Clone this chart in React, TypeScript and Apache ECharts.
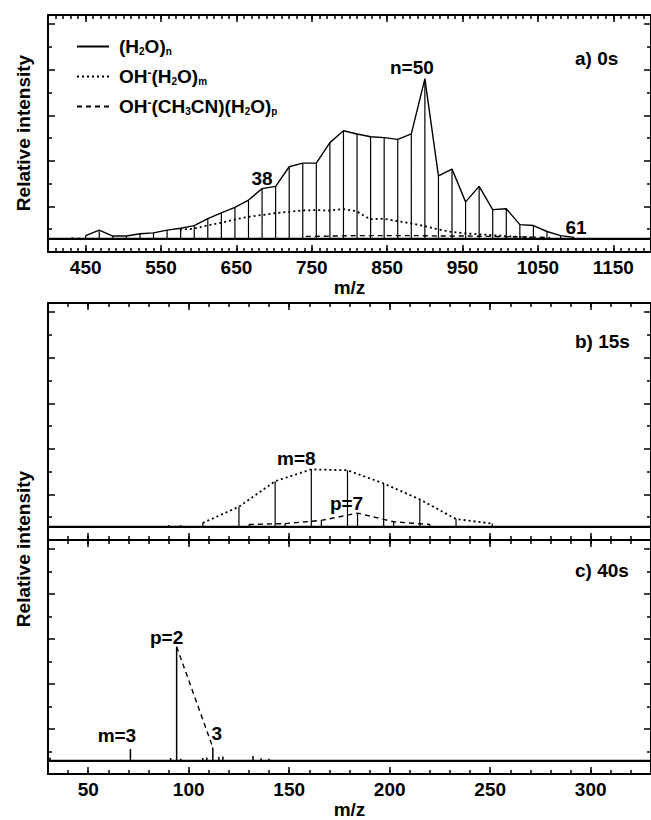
import React, { useEffect, useRef } from "react";
import * as echarts from "echarts";

const FONT = '"Liberation Sans", Arial, Helvetica, sans-serif';

// ---------- Panel a) 0 s ----------
const waterMzA = [450, 468, 486, 504, 522, 540, 558, 576, 594, 612, 630, 648, 666, 684, 702, 720, 738, 756, 774, 792, 810, 828, 846, 864, 882, 900, 918, 936, 954, 972, 990, 1008, 1026, 1044, 1062, 1080, 1098];
const waterIntA = [0.6, 1.8, 0.5, 0.5, 1.0, 1.2, 1.8, 2.2, 2.8, 4.3, 5.6, 6.8, 8.4, 10.9, 11.4, 15.7, 16.5, 16.5, 21.0, 23.6, 22.9, 22.3, 22.1, 21.7, 22.9, 35.0, 13.7, 15.2, 8.0, 11.4, 6.3, 6.5, 3.0, 2.8, 1.5, 0.6, 0.2];
const ohMzA = [575, 593, 611, 629, 647, 665, 683, 701, 719, 737, 755, 773, 791, 809, 827, 845, 863, 881, 899, 917, 935, 953, 971, 989, 1007, 1025, 1043];
const ohIntA = [1.9, 2.1, 2.8, 3.4, 4.1, 4.7, 5.1, 5.5, 5.8, 6.1, 6.2, 6.1, 6.4, 6.0, 4.2, 4.3, 3.8, 3.3, 2.7, 2.0, 1.4, 1.1, 0.9, 0.7, 0.5, 0.3, 0.2];
const acnMzA = [742, 778, 814, 850, 886, 922, 958, 994, 1030, 1066];
const acnIntA = [0.4, 0.5, 0.6, 0.6, 0.6, 0.5, 0.5, 0.4, 0.3, 0.2];
const noiseMzA = [432, 441, 1116, 1134];
const noiseIntA = [0.3, 0.2, 0.1, 0.1];

// ---------- Panel b) 15 s ----------
const ohMzB = [107, 125, 143, 161, 179, 197, 215, 233, 251];
const ohIntB = [0.75, 4.3, 9.9, 12.5, 12.3, 9.4, 5.9, 1.6, 0.6];
const acnMzB = [130, 148, 166, 184, 202, 220];
const acnIntB = [0.4, 0.6, 1.3, 2.9, 1.0, 0.4];
const noiseMzB = [90, 96];
const noiseIntB = [0.3, 0.3];

// ---------- Panel c) 40 s ----------
const peakMzC = [31, 71, 91, 94, 96, 107, 109, 112, 115, 117, 132, 136, 140];
const peakIntC = [0.7, 2.55, 0.6, 25.3, 0.4, 0.6, 0.7, 2.9, 0.8, 0.9, 1.0, 0.5, 0.4];
const acnMzC = [94, 112];
const acnIntC = [25.3, 2.9];

// ---------- ticks ----------
const xTicksA = [450, 550, 650, 750, 850, 950, 1050, 1150];
const xTicksBC = [50, 100, 150, 200, 250, 300];
const yMajorTicks = [-3, 7, 17, 27, 37, 47];
const yMinorTicks = [2, 12, 22, 32, 42];

// ---------- annotations ----------
const annotTextA = ["38", "n=50", "61"];
const annotMzA = [684, 900, 1098];
const annotTextB = ["m=8", "p=7"];
const annotMzB = [161, 184];
const annotTextC = ["m=3", "p=2", "3"];
const annotMzC = [71, 94, 112];

const panelTitles = ["a) 0s", "b) 15s", "c) 40s"];
const legendNames = ["(H2O)n", "OH-(H2O)m", "OH-(CH3CN)(H2O)p"];

function pairs(xs: number[], ys: number[]) {
  return xs.map((x, i) => [x, ys[i]]);
}

function sticks(xs: number[], ys: number[], lo: number, hi: number) {
  const idx = xs.map((_, i) => i).sort((a, b) => xs[a] - xs[b]);
  const pts: number[][] = [[lo, 0]];
  idx.forEach((i) => {
    pts.push([xs[i], 0], [xs[i], ys[i]], [xs[i], 0]);
  });
  pts.push([hi, 0]);
  return pts;
}

function lookup(xs: number[], ys: number[], x: number) {
  return ys[xs.indexOf(x)];
}

export default function App() {
  const ref = useRef<HTMLDivElement>(null);

  useEffect(() => {
    if (!ref.current) return;
    const chart = echarts.init(ref.current, null, { renderer: "svg" });

    const black = "#000";
    const boldText = { color: black, fontSize: 19, fontWeight: "bold" as const, fontFamily: FONT };

    const panels = [
      { min: 400, max: 1200, ticks: xTicksA, top: 15, labels: true },
      { min: 30, max: 330, ticks: xTicksBC, top: 303, labels: false },
      { min: 30, max: 330, ticks: xTicksBC, top: 540, labels: true },
    ];

    const grids = panels.map((p) => ({ left: 48, width: 604, top: p.top, height: 237 }));

    const xAxes: any[] = [];
    const yAxes: any[] = [];
    panels.forEach((p, g) => {
      const base = {
        type: "value",
        gridIndex: g,
        min: p.min,
        max: p.max,
        splitLine: { show: false },
        axisLine: { show: true, onZero: false, lineStyle: { color: black, width: 2 } },
      };
      const minorTick = { show: true, inside: true, length: 4, lineStyle: { color: black, width: 1.5 } };
      const majorTick = { show: true, inside: true, length: 7, customValues: p.ticks, lineStyle: { color: black, width: 1.5 } };
      xAxes.push(
        { ...base, position: "bottom", interval: 10, axisTick: minorTick, axisLabel: { show: false } },
        {
          ...base,
          position: "bottom",
          axisTick: majorTick,
          axisLabel: { show: p.labels, customValues: p.ticks, margin: 6, formatter: (v: number) => String(v), ...boldText },
          name: p.labels ? "m/z" : "",
          nameLocation: "middle",
          nameGap: 20,
          nameTextStyle: boldText,
        },
        { ...base, position: "top", interval: 10, axisTick: minorTick, axisLabel: { show: false } },
        { ...base, position: "top", axisTick: majorTick, axisLabel: { show: false } }
      );
      const yBase = {
        type: "value",
        gridIndex: g,
        min: -3,
        max: 49,
        splitLine: { show: false },
        axisLabel: { show: false },
        axisLine: { show: true, onZero: false, lineStyle: { color: black, width: 2 } },
      };
      const yMaj = { show: true, inside: true, length: 7, customValues: yMajorTicks, lineStyle: { color: black, width: 1.5 } };
      const yMin = { show: true, inside: true, length: 4, customValues: yMinorTicks, lineStyle: { color: black, width: 1.5 } };
      yAxes.push(
        { ...yBase, position: "left", axisTick: yMaj },
        { ...yBase, position: "left", axisTick: yMin },
        { ...yBase, position: "right", axisTick: yMaj },
        { ...yBase, position: "right", axisTick: yMin }
      );
    });

    const solidStyle = { color: black, width: 1.4, type: "solid" as const };
    const dottedStyle = { color: black, width: 1.8, type: [2, 3] };
    const dashedStyle = { color: black, width: 1.4, type: [5, 4] };

    const baseLine = {
      symbol: ["none", "none"],
      silent: true,
      label: { show: false },
      lineStyle: { color: black, width: 1.8, type: "solid" },
      data: [{ yAxis: 0 }],
    };

    const lineSeries = (name: string, g: number, data: number[][], lineStyle: any, z = 3) => ({
      type: "line",
      name,
      xAxisIndex: g * 4,
      yAxisIndex: g * 4,
      data,
      symbol: "none",
      color: black,
      lineStyle,
      z,
    });

    const labelSeries = (g: number, texts: string[], mzs: number[], hs: number[], offsets: number[][]) => ({
      type: "scatter",
      xAxisIndex: g * 4,
      yAxisIndex: g * 4,
      symbolSize: 1,
      silent: true,
      itemStyle: { color: "rgba(0,0,0,0)", opacity: 1 },
      z: 5,
      data: texts.map((t, i) => ({
        value: [mzs[i], hs[i]],
        label: {
          show: true,
          formatter: t,
          position: "inside",
          offset: offsets[i],
          opacity: 1,
          textBorderWidth: 0,
          textBorderColor: "transparent",
          ...boldText,
        },
      })),
    });

    const stickA = sticks([...waterMzA, ...noiseMzA], [...waterIntA, ...noiseIntA], 400, 1200);
    const stickB = sticks([...ohMzB, ...acnMzB, ...noiseMzB], [...ohIntB, ...acnIntB, ...noiseIntB], 30, 330);
    const stickC = sticks(peakMzC, peakIntC, 30, 330);

    const series: any[] = [
      lineSeries(legendNames[0], 0, pairs(waterMzA, waterIntA), solidStyle),
      lineSeries(legendNames[1], 0, pairs(ohMzA, ohIntA), dottedStyle),
      lineSeries(legendNames[2], 0, pairs(acnMzA, acnIntA), dashedStyle),
      { ...lineSeries("spectrum a", 0, stickA, { color: black, width: 1.2 }, 2), markLine: baseLine },
      labelSeries(0, annotTextA, annotMzA, annotMzA.map((m) => lookup(waterMzA, waterIntA, m)), [[0, -10.5], [-13, -11.5], [2, -9.5]]),

      lineSeries(legendNames[1], 1, pairs(ohMzB, ohIntB), dottedStyle),
      lineSeries(legendNames[2], 1, pairs(acnMzB, acnIntB), dashedStyle),
      { ...lineSeries("spectrum b", 1, stickB, { color: black, width: 1.2 }, 2), markLine: baseLine },
      labelSeries(1, annotTextB, annotMzB, [lookup(ohMzB, ohIntB, 161), lookup(acnMzB, acnIntB, 184)], [[-15, -10.5], [-11, -10]]),

      lineSeries(legendNames[2], 2, pairs(acnMzC, acnIntC), dashedStyle),
      { ...lineSeries("spectrum c", 2, stickC, { color: black, width: 1.5 }, 2), markLine: baseLine },
      labelSeries(2, annotTextC, annotMzC, annotMzC.map((m) => lookup(peakMzC, peakIntC, m)), [[-13.5, -13.5], [-10, -9], [4, -14]]),
    ];

    const richMap: Record<string, string> = {
      "(H2O)n": "{b|(H}{s|2}{b|O)}{s|n}",
      "OH-(H2O)m": "{b|OH}{u|-}{b|(H}{s|2}{b|O)}{s|m}",
      "OH-(CH3CN)(H2O)p": "{b|OH}{u|-}{b|(CH}{s|3}{b|CN)(H}{s|2}{b|O)}{s|p}",
    };

    const titleY = [58, 341, 570];

    chart.setOption({
      animation: false,
      backgroundColor: "#fff",
      textStyle: { fontFamily: FONT },
      grid: grids,
      xAxis: xAxes,
      yAxis: yAxes,
      legend: {
        data: legendNames,
        orient: "vertical",
        left: 76,
        top: 37,
        padding: 0,
        itemWidth: 32,
        itemHeight: 14,
        itemGap: 10,
        selectedMode: false,
        itemStyle: { opacity: 0, color: "rgba(0,0,0,0)", borderWidth: 0 },
        formatter: (n: string) => richMap[n] || n,
        textStyle: {
          padding: [0, 0, 0, 5],
          rich: {
            b: { fontSize: 19, fontWeight: "bold", fontFamily: FONT, color: black, lineHeight: 20 },
            s: { fontSize: 10, fontWeight: "bold", fontFamily: FONT, color: black, lineHeight: 10, verticalAlign: "bottom" },
            u: { fontSize: 12, fontWeight: "bold", fontFamily: FONT, color: black, lineHeight: 11, verticalAlign: "top" },
          },
        },
      },
      graphic: [
        ...panelTitles.map((t, i) => ({
          type: "text",
          x: 575,
          y: titleY[i],
          style: { text: t, font: `bold 19px ${FONT}`, fill: black, align: "left", verticalAlign: "middle", textAlign: "left", textVerticalAlign: "middle" },
        })),
        ...[133, 549].map((y) => ({
          type: "text",
          x: 23,
          y,
          rotation: Math.PI / 2,
          style: { text: "Relative intensity", font: `bold 19px ${FONT}`, fill: black, align: "center", verticalAlign: "middle", textAlign: "center", textVerticalAlign: "middle" },
        })),
      ],
      series,
    });

    return () => chart.dispose();
  }, []);

  return <div ref={ref} style={{ position: "absolute", left: 0, top: 0, width: 651, height: 820, background: "#fff" }} />;
}
